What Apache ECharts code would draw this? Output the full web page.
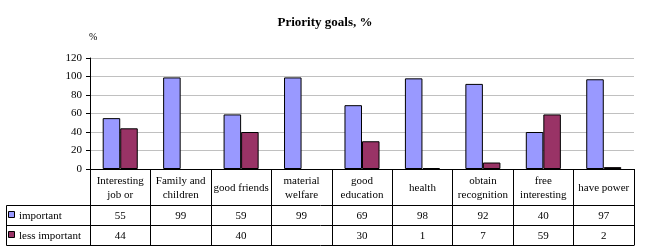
<!DOCTYPE html>
<html><head><meta charset="utf-8">
<script src="https://cdn.jsdelivr.net/npm/echarts@6/dist/echarts.min.js"></script>
<style>html,body{margin:0;padding:0;background:#fff}#c{width:650px;height:252px}</style>
</head><body><div id="c"></div>
<script>
const categories = ["Interesting\njob or","Family and\nchildren","good friends","material\nwelfare","good\neducation","health","obtain\nrecognition","free\ninteresting","have power"];
const seriesNames = ["important","less important"];
const important = [55,99,59,99,69,98,92,40,97];
const lessImportant = [44,null,40,null,30,1,7,59,2];
const yTicks = {min:0,max:120,interval:20};
const colors = ["#9999ff","#993366"];
const FONT = "'Liberation Serif','Times New Roman',serif";

const chart = echarts.init(document.getElementById('c'), null, {renderer:'canvas'});
const TABLE_H = 76;
chart.setOption({
  animation:false,
  title:{text:"Priority goals, %",left:'center',top:11,textStyle:{fontFamily:FONT,fontSize:13,fontWeight:'bold',color:'#000'}},
  grid:{left:90,right:16,top:58,bottom:83,containLabel:false},
  xAxis:{type:'category',data:categories,boundaryGap:true,
    axisLine:{show:true,lineStyle:{color:'#000',width:1}},
    axisTick:{show:true,interval:0,length:TABLE_H,lineStyle:{color:'#000',width:1}},
    axisLabel:{show:false}},
  yAxis:{type:'value',min:yTicks.min,max:yTicks.max,interval:yTicks.interval,
    name:'%',nameLocation:'end',nameGap:16,nameTextStyle:{fontFamily:FONT,fontSize:10,color:'#000',align:'left',padding:[0,0,0,-1]},
    axisLine:{show:true,lineStyle:{color:'#000'}},
    axisTick:{show:true,length:4,lineStyle:{color:'#000'}},
    axisLabel:{fontFamily:FONT,fontSize:11,color:'#000',margin:8},
    splitLine:{show:true,lineStyle:{color:'#c0c0c0',width:1}}},
  series:[
    {name:seriesNames[0],type:'bar',data:important,barGap:'0%',barCategoryGap:'42%',
     itemStyle:{color:colors[0],borderColor:'#000',borderWidth:1}},
    {name:seriesNames[1],type:'bar',data:lessImportant,
     itemStyle:{color:colors[1],borderColor:'#000',borderWidth:1}}
  ]
});

function buildTable(){
  const y0 = Math.round(chart.convertToPixel({yAxisIndex:0},0));
  const step = chart.convertToPixel({xAxisIndex:0},1)-chart.convertToPixel({xAxisIndex:0},0);
  const xStart = Math.round(chart.convertToPixel({xAxisIndex:0},0) - step/2);
  const xEnd = xStart + step*categories.length;
  const rowCat = 36, rowH = 20;
  const yR1 = y0 + rowCat, yR2 = yR1 + rowH, yR3 = yR2 + rowH;
  const leftX = 6.5;
  const g = [];
  const ts = {fontFamily:FONT,fontSize:11,fill:'#000'};
  [yR1,yR2,yR3].forEach(y=>{
    g.push({type:'line',shape:{x1:leftX,y1:y+0.5,x2:xEnd+0.5,y2:y+0.5},style:{stroke:'#000',lineWidth:1},silent:true});
  });
  g.push({type:'line',shape:{x1:leftX,y1:yR1+0.5,x2:leftX,y2:yR3+0.5},style:{stroke:'#000',lineWidth:1},silent:true});
  categories.forEach((c,i)=>{
    const cx = chart.convertToPixel({xAxisIndex:0},i);
    g.push({type:'text',x:cx,y:(y0+yR1)/2+1,style:Object.assign({text:c,align:'center',verticalAlign:'middle',lineHeight:14},ts)});
    g.push({type:'text',x:cx,y:(yR1+yR2)/2+1.5,style:Object.assign({text:important[i]==null?'':String(important[i]),align:'center',verticalAlign:'middle'},ts)});
    g.push({type:'text',x:cx,y:(yR2+yR3)/2+1.5,style:Object.assign({text:lessImportant[i]==null?'':String(lessImportant[i]),align:'center',verticalAlign:'middle'},ts)});
  });
  [[seriesNames[0],colors[0],(yR1+yR2)/2],[seriesNames[1],colors[1],(yR2+yR3)/2]].forEach(([n,col,cy])=>{
    g.push({type:'rect',shape:{x:8.5,y:Math.round(cy)-3.5,width:6,height:6},style:{fill:col,stroke:'#000',lineWidth:1},silent:true});
    g.push({type:'text',x:19,y:cy+1.5,style:Object.assign({text:n,align:'left',verticalAlign:'middle'},ts)});
  });
  chart.setOption({graphic:g});
}
buildTable();
</script></body></html>
